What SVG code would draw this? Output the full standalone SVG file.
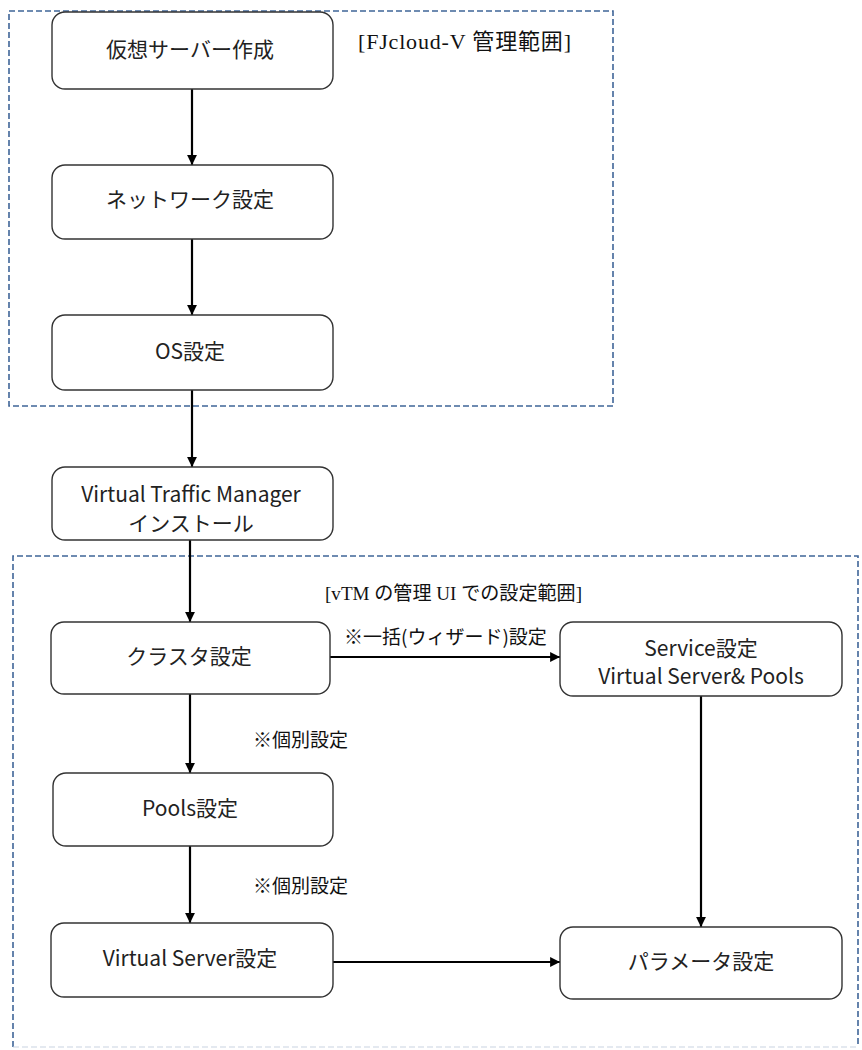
<svg xmlns="http://www.w3.org/2000/svg" width="862" height="1050" viewBox="0 0 862 1050">
<style>
.node rect{fill:#fff;stroke:#333;stroke-width:1.4}
.node text{font-family:"Noto Sans CJK JP","Noto Sans",sans-serif;font-size:21px;fill:#222;text-anchor:middle;dominant-baseline:central}
.region{fill:none;stroke:#3f6598;stroke-width:1.6;stroke-dasharray:6 3}
.faint{fill:none;stroke:#c9d3e2;stroke-width:1.2;stroke-dasharray:6 3}
.serif{font-family:"Liberation Serif","Noto Sans CJK JP",serif;fill:#111;dominant-baseline:central}
.lbl{font-family:"Noto Sans CJK JP","Noto Sans",sans-serif;font-size:19px;fill:#111;dominant-baseline:central}
#connectors line{stroke:#000;stroke-width:2.2;marker-end:url(#arr)}
</style>
<defs>
<marker id="arr" viewBox="0 0 10 10" refX="10" refY="5" markerWidth="4.5" markerHeight="4.5" orient="auto" markerUnits="strokeWidth">
<path d="M0,0 L10,5 L0,10 z" fill="#000"/>
</marker>
</defs>
<rect width="862" height="1050" fill="#fff"/>
<g id="regions">
<rect class="region" x="9" y="11" width="604" height="395"/>
<path class="region" d="M13,1047 V556 H858 V1047"/>
<path class="faint" d="M13,1047 H858"/>
<text class="serif" x="358" y="41" font-size="22" textLength="213" lengthAdjust="spacing">[FJcloud-V 管理範囲]</text>
<text class="serif" x="325" y="593" font-size="19.5" textLength="257" lengthAdjust="spacingAndGlyphs">[vTM の管理 UI での設定範囲]</text>
</g>
<g id="connectors">
<line x1="192" y1="89" x2="192" y2="165"/>
<line x1="192" y1="239" x2="192" y2="315"/>
<line x1="192" y1="390" x2="192" y2="467"/>
<line x1="190" y1="540" x2="190" y2="622"/>
<line x1="190" y1="694" x2="190" y2="773"/>
<line x1="190" y1="846" x2="190" y2="923"/>
<line x1="330" y1="657" x2="560" y2="657"/>
<line x1="701" y1="696" x2="701" y2="927"/>
<line x1="333" y1="962" x2="560" y2="962"/>
<text class="lbl" x="344" y="635">※一括(ウィザード)設定</text>
<text class="lbl" x="253" y="738">※個別設定</text>
<text class="lbl" x="253" y="884">※個別設定</text>
</g>
<g id="n1" class="node"><rect x="52" y="12" width="281" height="77" rx="13"/><text x="190" y="48">仮想サーバー作成</text></g>
<g id="n2" class="node"><rect x="52" y="165" width="281" height="74" rx="13"/><text x="190" y="198">ネットワーク設定</text></g>
<g id="n3" class="node"><rect x="52" y="315" width="281" height="75" rx="13"/><text x="190" y="350">OS設定</text></g>
<g id="n4" class="node"><rect x="52" y="467" width="281" height="73" rx="13"/><text x="191" y="493">Virtual Traffic Manager</text><text x="191" y="522">インストール</text></g>
<g id="n5" class="node"><rect x="51" y="622" width="279" height="72" rx="13"/><text x="189" y="655">クラスタ設定</text></g>
<g id="n6" class="node"><rect x="560" y="622" width="282" height="74" rx="13"/><text x="701" y="647">Service設定</text><text x="701" y="675">Virtual Server&amp; Pools</text></g>
<g id="n7" class="node"><rect x="53" y="773" width="280" height="73" rx="13"/><text x="190" y="807">Pools設定</text></g>
<g id="n8" class="node"><rect x="51" y="923" width="282" height="74" rx="13"/><text x="190" y="957">Virtual Server設定</text></g>
<g id="n9" class="node"><rect x="560" y="927" width="282" height="72" rx="13"/><text x="701" y="960">パラメータ設定</text></g>
</svg>
